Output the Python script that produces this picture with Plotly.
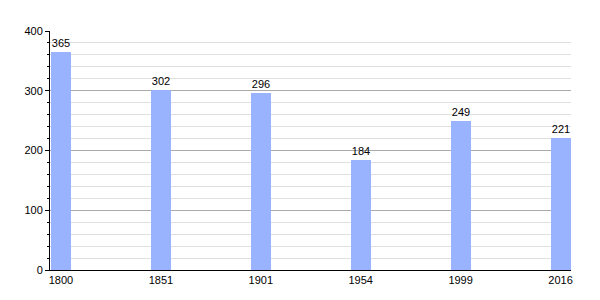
import plotly.graph_objects as go

years = ["1800", "1851", "1901", "1954", "1999", "2016"]
population = [365, 302, 296, 184, 249, 221]

fig = go.Figure(go.Bar(
    x=years, y=population,
    width=0.2,
    marker=dict(color="#99b3ff", line=dict(width=0)),
    text=[str(v) for v in population],
    textposition="outside",
    textfont=dict(color="black", size=11, family="Liberation Sans, Arial"),
    cliponaxis=False,
))

fig.update_layout(
    width=600, height=300,
    margin=dict(l=50, r=29, t=31, b=30),
    paper_bgcolor="white", plot_bgcolor="white",
    font=dict(family="Liberation Sans, Arial", size=11, color="black"),
    showlegend=False,
    bargap=0,
    xaxis=dict(
        type="category", range=[-0.11, 5.105],
        showline=True, linecolor="black", linewidth=1,
        showgrid=False, ticks="", tickfont=dict(size=11, color="black"),
        zeroline=False,
    ),
    yaxis=dict(
        range=[0, 400], dtick=100, tick0=0,
        showline=True, linecolor="black", linewidth=1,
        showgrid=True, gridcolor="#aaaaaa", gridwidth=1,
        ticks="outside", ticklen=4, tickcolor="black",
        tickfont=dict(size=11, color="black"),
        zeroline=False,
        minor=dict(dtick=20, showgrid=True, gridcolor="#e0e0e0", gridwidth=1,
                   ticks="outside", ticklen=2, tickcolor="black"),
    ),
)

fig.write_html("out.html")
